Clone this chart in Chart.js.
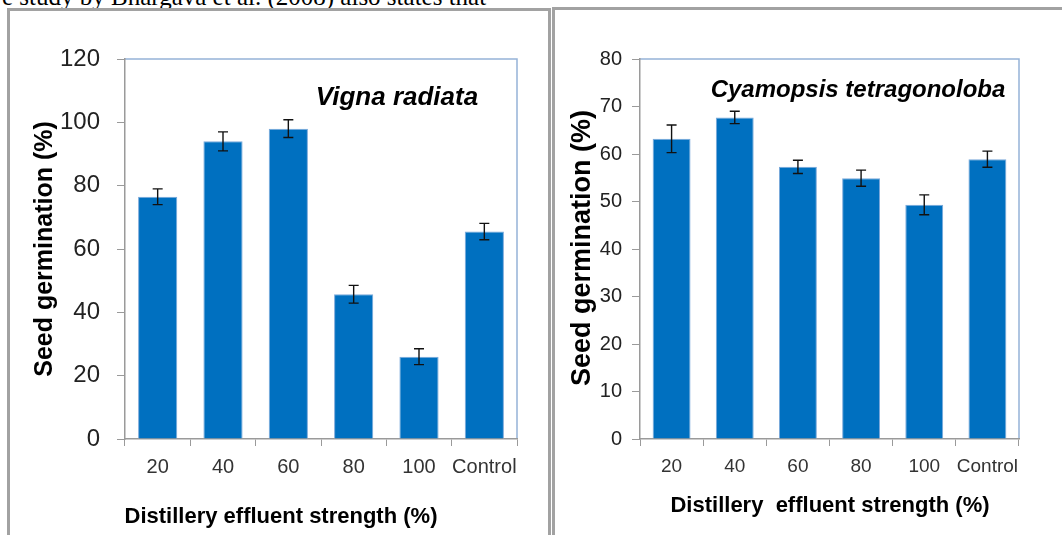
<!DOCTYPE html>
<html>
<head>
<meta charset="utf-8">
<script src="https://cdn.jsdelivr.net/npm/chart.js@4.4.1/dist/chart.umd.min.js"></script>
<style>
  html, body { margin:0; padding:0; background:#fff; width:1062px; height:535px; overflow:hidden; position:relative; }
  .panel { position:absolute; border:3px solid #a2a2a2; box-sizing:border-box; }
  #p1 { left:7px; top:8px; width:544px; height:560px; }
  #p2 { left:552px; top:7px; width:520px; height:560px; }
  #topText { position:absolute; left:2px; top:-16px; font-family:"Liberation Serif", serif; font-size:25px; line-height:25px; color:#000; white-space:nowrap; }
  canvas { position:absolute; top:0; }
  #c1 { left:0; }
  #c2 { left:551px; }
</style>
</head>
<body>
<div id="topText">e study by Bhargava et al. (2008) also states that</div>
<div class="panel" id="p1"></div>
<div class="panel" id="p2"></div>
<canvas id="c1" width="550" height="535"></canvas>
<canvas id="c2" width="511" height="535"></canvas>
<script>
// ---- data ----
const categories = ['20', '40', '60', '80', '100', 'Control'];
const vignaMeans = [76.5, 94, 98, 45.7, 26, 65.5];
const vignaErrors = [2.5, 3, 2.8, 2.8, 2.5, 2.6];
const cyamopsisMeans = [63.2, 67.7, 57.3, 54.9, 49.3, 58.9];
const cyamopsisErrors = [2.9, 1.3, 1.4, 1.7, 2.1, 1.7];
const vignaYTicks = [0, 20, 40, 60, 80, 100, 120];
const cyamopsisYTicks = [0, 10, 20, 30, 40, 50, 60, 70, 80];
const titleVigna = 'Vigna radiata';
const titleCyamopsis = 'Cyamopsis tetragonoloba';
const yTitle = 'Seed germination (%)';
const xTitleLeft = 'Distillery effluent strength (%)';
const xTitleRight = 'Distillery  effluent strength (%)';

const SANS = '"Liberation Sans", Arial, sans-serif';

function makeChart(canvasId, cfg) {
  const errorBars = {
    id: 'errorBars',
    afterDatasetsDraw(chart) {
      const ctx = chart.ctx;
      const xs = chart.scales.x, ys = chart.scales.y;
      ctx.save();
      ctx.strokeStyle = '#111';
      ctx.lineWidth = 1.4;
      cfg.means.forEach((m, i) => {
        const x = xs.getPixelForValue(i);
        const yt = ys.getPixelForValue(m + cfg.errors[i]);
        const yb = ys.getPixelForValue(m - cfg.errors[i]);
        ctx.beginPath();
        ctx.moveTo(x, yt); ctx.lineTo(x, yb);
        ctx.moveTo(x - 5, yt); ctx.lineTo(x + 5, yt);
        ctx.moveTo(x - 5, yb); ctx.lineTo(x + 5, yb);
        ctx.stroke();
      });
      ctx.restore();
    }
  };
  const frame = {
    id: 'frame',
    beforeDraw(chart) {
      const a = chart.chartArea, ctx = chart.ctx;
      ctx.save();
      ctx.strokeStyle = '#95b3d7';
      ctx.lineWidth = 1.5;
      ctx.beginPath();
      ctx.moveTo(a.left, a.top); ctx.lineTo(a.right, a.top); ctx.lineTo(a.right, a.bottom);
      ctx.stroke();
      ctx.restore();
    },
    afterDraw(chart) {
      const ctx = chart.ctx;
      ctx.save();
      ctx.fillStyle = '#000';
      ctx.font = 'italic bold ' + cfg.titleSize + 'px ' + SANS;
      ctx.textAlign = 'center';
      ctx.textBaseline = 'alphabetic';
      ctx.fillText(cfg.title, cfg.titleX, cfg.titleY);
      ctx.font = 'bold ' + cfg.xTitleSize + 'px ' + SANS;
      ctx.fillText(cfg.xTitle, cfg.xTitleX, cfg.xTitleY);
      ctx.translate(cfg.yTitleX, cfg.yTitleY);
      ctx.rotate(-Math.PI / 2);
      ctx.font = 'bold ' + cfg.yTitleSize + 'px ' + SANS;
      ctx.fillText(yTitle, 0, 0);
      ctx.restore();
    }
  };
  return new Chart(document.getElementById(canvasId), {
    type: 'bar',
    data: {
      labels: categories,
      datasets: [{
        data: cfg.means,
        backgroundColor: '#0070c0',
        borderColor: '#7aa8da',
        borderWidth: 1,
        categoryPercentage: 1,
        barPercentage: 0.6
      }]
    },
    options: {
      responsive: false,
      animation: false,
      devicePixelRatio: 1,
      layout: { padding: { left: 0, top: cfg.top, right: cfg.padRight, bottom: 0 } },
      plugins: { legend: { display: false }, tooltip: { enabled: false }, title: { display: false } },
      scales: {
        x: {
          grid: { display: true, drawOnChartArea: false, drawTicks: true, tickLength: 7, color: '#9a9a9a', offset: true },
          border: { display: true, color: '#9a9a9a', width: 1.5 },
          ticks: { font: { family: SANS, size: cfg.xTickSize }, color: '#333', padding: 9, maxRotation: 0, autoSkip: false },
          afterFit: s => { s.height = cfg.xAxisH; }
        },
        y: {
          min: 0, max: cfg.yTicks[cfg.yTicks.length - 1],
          afterBuildTicks: s => { s.ticks = cfg.yTicks.map(v => ({ value: v })); },
          grid: { display: true, drawOnChartArea: false, drawTicks: true, tickLength: 8, color: '#9a9a9a' },
          border: { display: true, color: '#9a9a9a', width: 1.5 },
          ticks: { font: { family: SANS, size: cfg.yTickSize }, color: '#222', padding: cfg.yTickPad },
          afterFit: s => { s.width = cfg.yAxisW; }
        }
      }
    },
    plugins: [frame, errorBars]
  });
}

makeChart('c1', {
  means: vignaMeans, errors: vignaErrors, yTicks: vignaYTicks,
  top: 59, padRight: 33, xAxisH: 96, yAxisW: 125,
  xTickSize: 20, yTickSize: 24, yTickPad: 17,
  title: titleVigna, titleSize: 26, titleX: 397, titleY: 105,
  xTitle: xTitleLeft, xTitleSize: 22, xTitleX: 281, xTitleY: 523,
  yTitleX: 52, yTitleY: 249, yTitleSize: 25
});

makeChart('c2', {
  means: cyamopsisMeans, errors: cyamopsisErrors, yTicks: cyamopsisYTicks,
  top: 59, padRight: 43, xAxisH: 96, yAxisW: 89,
  xTickSize: 19, yTickSize: 20, yTickPad: 10,
  title: titleCyamopsis, titleSize: 24, titleX: 858 - 551, titleY: 97,
  xTitle: xTitleRight, xTitleSize: 22, xTitleX: 830 - 551, xTitleY: 512,
  yTitleX: 590 - 551, yTitleY: 248, yTitleSize: 27
});
</script>
</body>
</html>
